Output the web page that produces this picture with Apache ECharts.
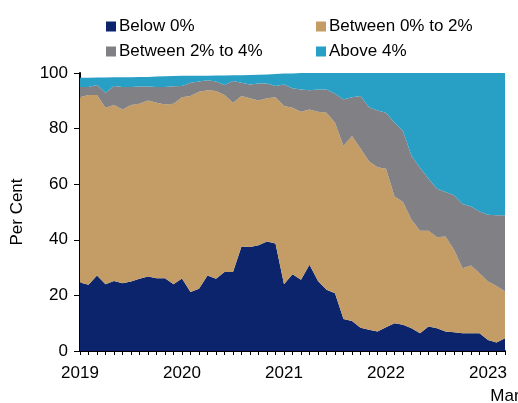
<!DOCTYPE html>
<html lang="en">
<head>
    <meta charset="UTF-8" />
    <title>Inflation distribution</title>
    <style>
      html, body { margin: 0; padding: 0; background: #fff; }
    </style>
</head>
<body>
<div id="main" style="width: 518px; height: 403px"></div>
<script src="https://cdn.jsdelivr.net/npm/echarts@6.0.0/dist/echarts.min.js"></script>
<script>
  // months Jan 2019 - Mar 2023
  var months = [
    '2019-01','2019-02','2019-03','2019-04','2019-05','2019-06','2019-07','2019-08','2019-09','2019-10','2019-11','2019-12',
    '2020-01','2020-02','2020-03','2020-04','2020-05','2020-06','2020-07','2020-08','2020-09','2020-10','2020-11','2020-12',
    '2021-01','2021-02','2021-03','2021-04','2021-05','2021-06','2021-07','2021-08','2021-09','2021-10','2021-11','2021-12',
    '2022-01','2022-02','2022-03','2022-04','2022-05','2022-06','2022-07','2022-08','2022-09','2022-10','2022-11','2022-12',
    '2023-01','2023-02','2023-03'
  ];

  // share of items (per cent)
  var below0 = [
    24.6, 23.8, 27.2, 24.0, 25.2, 24.4, 25.0, 26.0, 26.8, 26.2, 26.2, 24.0,
    26.1, 21.2, 22.4, 27.2, 26.0, 28.4, 28.4, 37.6, 37.4, 38.0, 39.4, 38.7,
    24.0, 27.6, 25.6, 31.0, 25.2, 22.0, 20.8, 11.5, 10.8, 8.4, 7.6, 7.0,
    8.5, 10.0, 9.4, 8.2, 6.4, 8.8, 8.2, 7.0, 6.7, 6.4, 6.4, 6.4,
    4.0, 3.1, 4.6
  ];
  var between0to2 = [
    66.7, 68.3, 64.9, 63.5, 63.3, 62.5, 63.5, 62.9, 63.3, 63.1, 62.5, 64.9,
    65.2, 70.5, 70.9, 66.6, 67.5, 63.7, 60.9, 54.1, 53.5, 52.1, 51.5, 52.6,
    64.1, 59.9, 60.5, 55.9, 60.9, 63.7, 61.3, 62.2, 66.5, 64.4, 60.7, 59.1,
    57.1, 45.6, 44.2, 39.0, 36.9, 34.5, 32.7, 34.2, 29.7, 23.4, 24.4, 21.6,
    21.0, 20.3, 16.8
  ];
  var between2to4 = [
    3.7, 2.9, 3.6, 5.4, 6.8, 8.1, 6.5, 6.2, 5.0, 5.7, 6.3, 6.3,
    4.0, 4.8, 3.6, 3.6, 3.4, 3.6, 7.8, 4.8, 5.0, 6.1, 5.3, 4.0,
    7.8, 7.0, 8.0, 6.9, 8.0, 8.4, 10.4, 16.8, 14.0, 18.9, 19.4, 20.4,
    20.1, 26.5, 25.5, 22.9, 22.6, 18.7, 17.5, 16.0, 19.6, 23.1, 21.2, 22.2,
    24.0, 25.4, 27.4
  ];
  var above4 = [
    3.3, 3.3, 2.7, 5.5, 3.2, 3.5, 3.5, 3.5, 3.5, 3.7, 3.8, 3.7,
    3.7, 2.5, 2.1, 1.6, 2.2, 3.4, 2.1, 2.7, 3.4, 3.2, 3.3, 4.3,
    3.9, 5.3, 5.9, 6.2, 5.9, 5.9, 7.5, 9.5, 8.7, 8.3, 12.3, 13.5,
    14.3, 17.9, 20.9, 29.9, 34.1, 38.0, 41.6, 42.8, 44.0, 47.1, 48.0, 49.8,
    51.0, 51.2, 51.2
  ];

  var myChart = echarts.init(document.getElementById('main'));
  var font = "'Liberation Sans', Arial, sans-serif";

  function areaSeries(name, data, color) {
    return {
      name: name,
      type: 'line',
      stack: 'total',
      data: data,
      symbol: 'none',
      lineStyle: { width: 0 },
      areaStyle: { color: color, opacity: 1 },
      itemStyle: { color: color },
      emphasis: { disabled: true }
    };
  }

  function legendAt(name, left, top) {
    return {
      data: [name],
      left: left,
      top: top,
      icon: 'rect',
      itemWidth: 10,
      itemHeight: 10,
      itemGap: 0,
      padding: 0,
      textStyle: { fontFamily: font, fontSize: 17, color: '#000', padding: [0, 0, 0, -2] }
    };
  }

  var option = {
    animation: false,
    legend: [
      legendAt('Below 0%', 106, 18),
      legendAt('Between 0% to 2%', 316, 18),
      legendAt('Between 2% to 4%', 106, 43),
      legendAt('Above 4%', 316, 43)
    ],
    grid: { left: 80, right: 13, top: 73, bottom: 52, containLabel: false, outerBoundsMode: 'none' },
    xAxis: {
      type: 'category',
      data: months,
      boundaryGap: false,
      axisLine: { lineStyle: { color: '#000', width: 2 } },
      axisTick: { interval: 0, length: 4, lineStyle: { color: '#000' } },
      axisLabel: {
        interval: 0,
        margin: 14,
        fontFamily: font,
        fontSize: 17,
        color: '#000',
        formatter: function (v, i) {
          if (i % 12 === 0) return v.slice(0, 4);
          if (i === months.length - 1) return '\n{m|Mar}';
          return '';
        },
        rich: {
          m: { fontFamily: font, fontSize: 17, color: '#000', padding: [6, 0, 0, 0] }
        }
      },
      splitLine: { show: false }
    },
    yAxis: {
      type: 'value',
      min: 0,
      max: 100,
      interval: 20,
      name: 'Per Cent',
      nameLocation: 'middle',
      nameGap: 54,
      nameTextStyle: { fontFamily: font, fontSize: 17, color: '#000' },
      axisLine: { show: true, lineStyle: { color: '#000', width: 2 } },
      axisTick: { show: true, length: 6, lineStyle: { color: '#000' } },
      axisLabel: { fontFamily: font, fontSize: 17, color: '#000', margin: 12 },
      splitLine: { show: false }
    },
    series: [
      areaSeries('Below 0%', below0, '#0b246b'),
      areaSeries('Between 0% to 2%', between0to2, '#c49c66'),
      areaSeries('Between 2% to 4%', between2to4, '#808085'),
      areaSeries('Above 4%', above4, '#28a0c6')
    ]
  };
  myChart.setOption(option);
</script>
</body>
</html>
